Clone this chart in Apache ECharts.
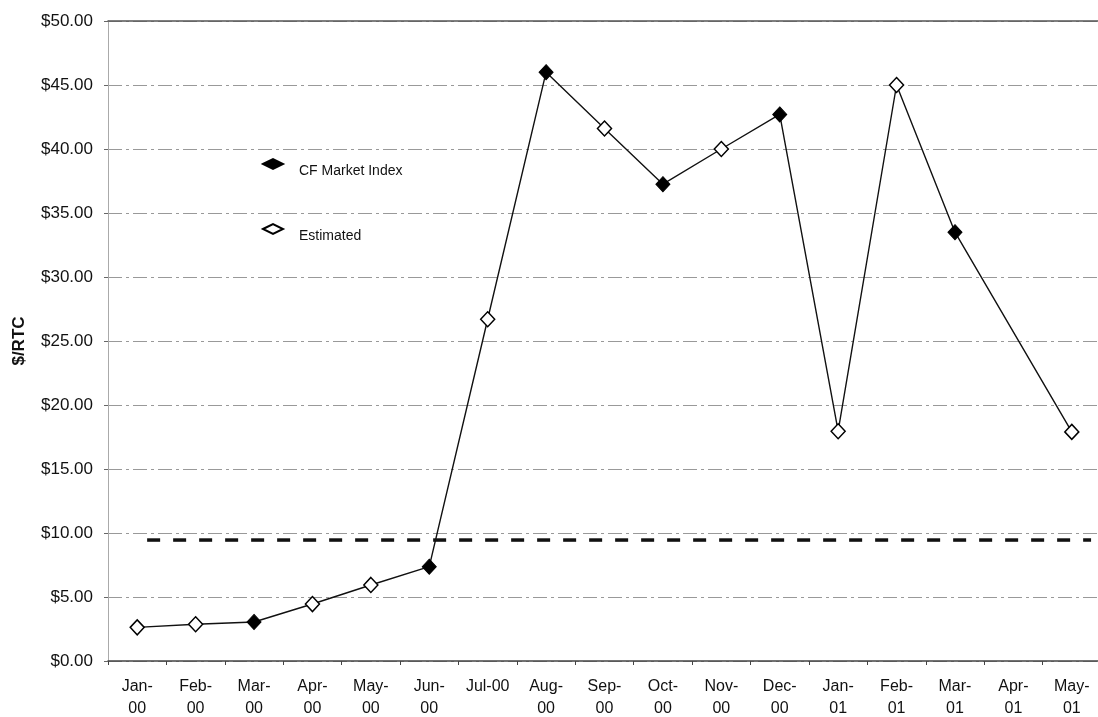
<!DOCTYPE html>
<html>
<head>
<meta charset="utf-8">
<script src="https://cdn.jsdelivr.net/npm/echarts@6/dist/echarts.min.js"></script>
<style>
html,body{margin:0;padding:0;background:#fff;}
#chart{width:1098px;height:717px;}
</style>
</head>
<body>
<div id="chart"></div>
<script>
const months = ['Jan-\n00','Feb-\n00','Mar-\n00','Apr-\n00','May-\n00','Jun-\n00','Jul-00','Aug-\n00','Sep-\n00','Oct-\n00','Nov-\n00','Dec-\n00','Jan-\n01','Feb-\n01','Mar-\n01','Apr-\n01','May-\n01'];
const prices = [2.63, 2.87, 3.05, 4.45, 5.94, 7.37, 26.7, 46.0, 41.6, 37.25, 40.0, 42.7, 17.95, 45.0, 33.5, null, 17.9];
const sources = ['Est','Est','CF','Est','Est','CF','Est','CF','Est','CF','Est','CF','Est','Est','CF',null,'Est'];
// horizontal reference level, drawn over the span of the month bands (band units 0..17)
const referenceLevel = [[0.67, 9.45], [16.83, 9.45]];
const yTicks = [0, 5, 10, 15, 20, 25, 30, 35, 40, 45, 50];

const cfData = prices.map((v, i) => sources[i] === 'CF' ? v : null);
const estData = prices.map((v, i) => sources[i] === 'Est' ? v : null);

// legend diamond sitting slightly above its label
const legendIcon = 'path://M0,5 L10,0 L20,5 L10,10 Z M20,24 L20,24';

const chart = echarts.init(document.getElementById('chart'), null, {renderer: 'canvas'});
const font = 'Liberation Sans, Arial, sans-serif';
chart.setOption({
  animation: false,
  backgroundColor: '#fff',
  textStyle: {fontFamily: font},
  grid: {left: 108, right: -3, top: 21, bottom: 56, outerBoundsMode: 'none', containLabel: false},
  legend: {
    orient: 'vertical',
    left: 257,
    top: 153,
    itemGap: 39,
    itemWidth: 20,
    itemHeight: 24,
    textStyle: {fontSize: 14, color: '#111', fontFamily: font, padding: [0, 0, 0, 11]},
    data: [{name: 'CF Market Index', icon: legendIcon}, {name: 'Estimated', icon: legendIcon}]
  },
  xAxis: [{
    type: 'category',
    data: months,
    boundaryGap: true,
    axisLine: {lineStyle: {color: '#444', width: 1.5}},
    axisTick: {show: true, length: 4, lineStyle: {color: '#444'}},
    axisLabel: {color: '#111', fontSize: 16, fontFamily: font, margin: 15, lineHeight: 22, interval: 0}
  }, {
    type: 'category',
    data: months,
    position: 'top',
    axisLine: {show: true, lineStyle: {color: '#555', width: 1.5}},
    axisTick: {show: false},
    axisLabel: {show: false}
  }, {
    type: 'value',
    min: 0,
    max: 17,
    show: false
  }],
  yAxis: {
    type: 'value',
    min: 0,
    max: 50,
    interval: 5,
    name: '$/RTC',
    nameLocation: 'middle',
    nameGap: 80,
    nameTextStyle: {fontWeight: 'bold', fontSize: 17, color: '#111', fontFamily: font},
    axisLine: {show: true, lineStyle: {color: '#aaa', width: 1}},
    axisTick: {show: true, length: 4, lineStyle: {color: '#666'}},
    axisLabel: {color: '#111', fontSize: 17, fontFamily: font, margin: 15,
      formatter: v => '$' + v.toFixed(2)},
    splitLine: {show: true, lineStyle: {color: '#999', width: 1, type: [14, 4, 3, 4]}}
  },
  series: [{
    name: 'Price',
    type: 'line',
    data: prices,
    connectNulls: true,
    showSymbol: false,
    symbol: 'none',
    lineStyle: {color: '#111', width: 1.4},
    z: 2
  }, {
    name: 'Reference',
    type: 'line',
    xAxisIndex: 2,
    data: referenceLevel,
    symbol: 'none',
    lineStyle: {color: '#111', width: 3.5, type: [13, 13]},
    z: 1
  }, {
    name: 'CF Market Index',
    type: 'scatter',
    data: cfData,
    symbol: 'diamond',
    symbolSize: [14, 15],
    itemStyle: {color: '#000', borderColor: '#000', borderWidth: 1, opacity: 1},
    z: 3
  }, {
    name: 'Estimated',
    type: 'scatter',
    data: estData,
    symbol: 'diamond',
    symbolSize: [14, 15],
    itemStyle: {color: '#fff', borderColor: '#000', borderWidth: 1.5, opacity: 1},
    z: 3
  }]
});
</script>
</body>
</html>
